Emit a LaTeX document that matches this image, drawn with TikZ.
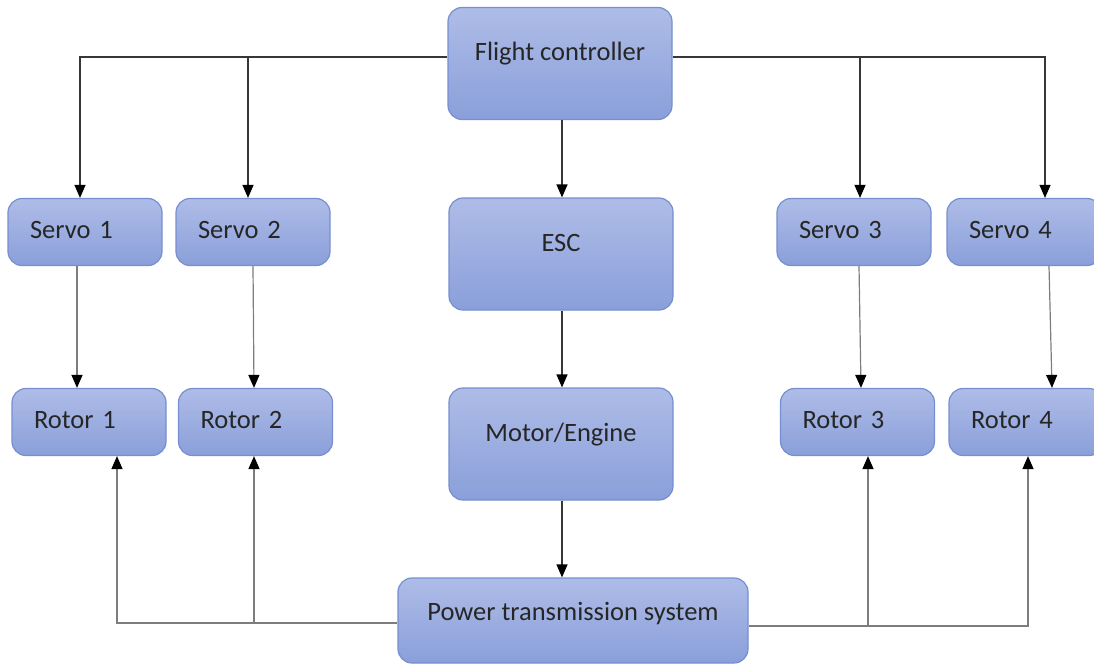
\documentclass[tikz,border=0pt]{standalone}
\usepackage{fontspec}
\setmainfont{Carlito}
\usetikzlibrary{arrows.meta}

\definecolor{boxtop}{RGB}{174,188,231}
\definecolor{boxbot}{RGB}{138,159,218}
\definecolor{boxline}{RGB}{118,143,208}
\definecolor{wire}{RGB}{55,55,55}
\definecolor{wirelight}{RGB}{125,125,125}

\tikzset{
	block/.style={shape=rectangle, rounded corners=14pt, draw=boxline, line width=1.2pt,
		top color=boxtop, bottom color=boxbot, text=black!85, font=\fontsize{26.5}{30}\selectfont},
	bigblock/.style={block, minimum width=224pt, minimum height=112pt, text height=18pt, text depth=24pt},
	smallblock/.style={block, text width=110pt, inner xsep=22pt, align=left,
		minimum height=67pt, text height=18pt, text depth=6pt},
	link/.style={draw=wire, line width=1.2pt, -{Triangle[width=11pt,length=13pt,color=black]}},
	feed/.style={link, draw=wirelight, line width=1.4pt}
}

\begin{document}
\begin{tikzpicture}[x=1pt, y=-1pt]
	
	\useasboundingbox (0, 0) rectangle (1094, 665);
	
	\node[bigblock] (fc)    at (560, 63.5) {Flight controller};
	\node[bigblock] (esc)   at (561, 254)  {ESC};
	\node[bigblock] (motor) at (561, 444)  {Motor/Engine};
	\node[bigblock, minimum width=350pt, minimum height=85pt, text depth=19pt] (pts) at (573, 620.5) {Power transmission system};
	
	\node[smallblock] (s1) at (85, 232)    {Servo 1};
	\node[smallblock] (s2) at (253, 232)   {Servo 2};
	\node[smallblock] (s3) at (854, 232)   {Servo 3};
	\node[smallblock] (s4) at (1024, 232)  {Servo 4};
	
	\node[smallblock] (r1) at (89, 422)    {Rotor 1};
	\node[smallblock] (r2) at (255.5, 422) {Rotor 2};
	\node[smallblock] (r3) at (857.5, 422) {Rotor 3};
	\node[smallblock] (r4) at (1026, 422)  {Rotor 4};
	
	% flight controller to the servos
	\coordinate (fcl) at ([yshift=6.5pt]fc.west);
	\coordinate (fcr) at ([yshift=6.5pt]fc.east);
	\coordinate (s1in) at ([xshift=-5pt]s1.north);
	\coordinate (s2in) at ([xshift=-5pt]s2.north);
	\coordinate (s3in) at ([xshift=6pt]s3.north);
	\coordinate (s4in) at ([xshift=21pt]s4.north);
	\draw[link] (fcl) -| (s1in);
	\draw[link] (fcl -| s2in) -- (s2in);
	\draw[link] (fcr) -| (s4in);
	\draw[link] (fcr -| s3in) -- (s3in);
	
	% centre chain
	\draw[link] ([xshift=2pt]fc.south) -- ([xshift=1pt]esc.north);
	\draw[link] ([xshift=1pt]esc.south) -- ([xshift=1pt]esc.south |- motor.north);
	\draw[link] ([xshift=1pt]motor.south) -- ([xshift=1pt]motor.south |- pts.north);
	
	% servos to the rotors
	\draw[link, draw=wirelight] ([xshift=-8pt]s1.south) -- ([xshift=-12pt]r1.north);
	\draw[link, draw=wirelight] ([xshift=0pt]s2.south)  -- ([xshift=-1.5pt]r2.north);
	\draw[link, draw=wirelight] ([xshift=5pt]s3.south)  -- ([xshift=3.5pt]r3.north);
	\draw[link, draw=wirelight] ([xshift=25pt]s4.south) -- ([xshift=26pt]r4.north);
	
	% power transmission to the rotors
	\coordinate (ptl) at ([yshift=-2.5pt]pts.west);
	\coordinate (ptr) at ([yshift=-5.5pt]pts.east);
	\coordinate (r1in) at ([xshift=28pt]r1.south);
	\coordinate (r2in) at ([xshift=-1.5pt]r2.south);
	\coordinate (r3in) at ([xshift=10.5pt]r3.south);
	\coordinate (r4in) at ([xshift=2pt]r4.south);
	\draw[feed] (ptl) -| (r1in);
	\draw[feed] (ptl -| r2in) -- (r2in);
	\draw[feed] (ptr) -| (r4in);
	\draw[feed] (ptr -| r3in) -- (r3in);
	
\end{tikzpicture}
\end{document}
